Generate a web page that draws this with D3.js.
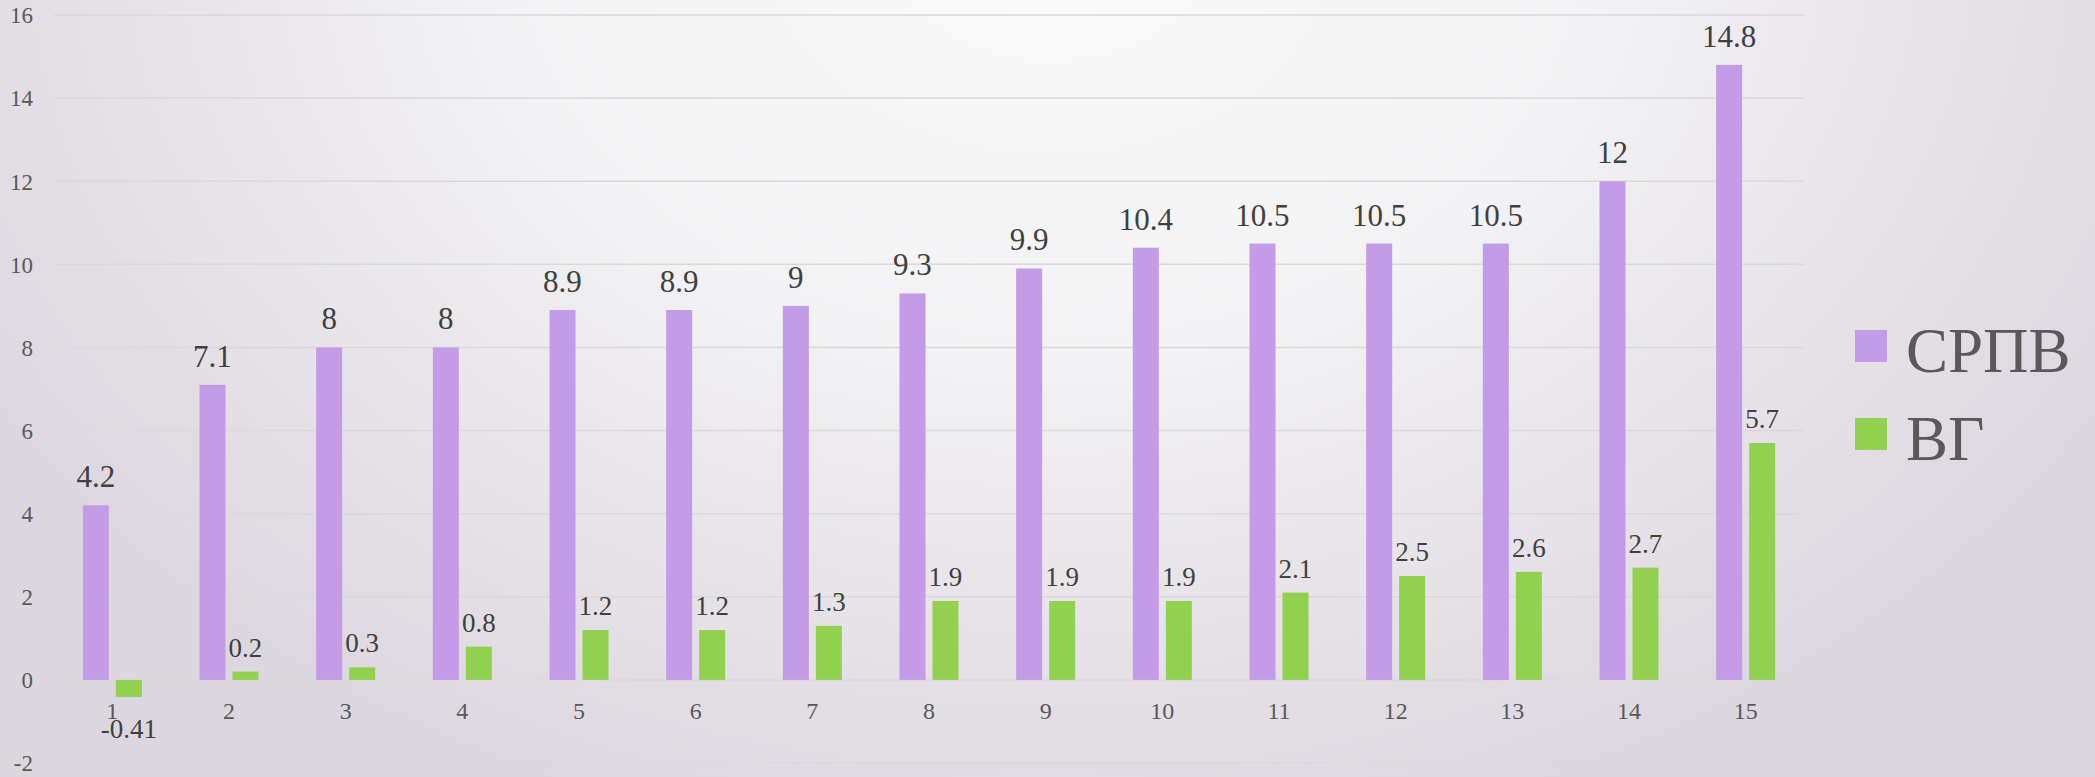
<!DOCTYPE html>
<html><head><meta charset="utf-8">
<script src="https://cdn.jsdelivr.net/npm/d3@7"></script>
<style>html,body{margin:0;padding:0;overflow:hidden;}svg{display:block;}</style>
</head><body>
<svg id="chart" width="2095" height="777"></svg>
<script>
const categories = ["1","2","3","4","5","6","7","8","9","10","11","12","13","14","15"];
const seriesNames = ["СРПВ","ВГ"];
const srpv = [4.2,7.1,8,8,8.9,8.9,9,9.3,9.9,10.4,10.5,10.5,10.5,12,14.8];
const vg = [-0.41,0.2,0.3,0.8,1.2,1.2,1.3,1.9,1.9,1.9,2.1,2.5,2.6,2.7,5.7];
const yTicks = [-2,0,2,4,6,8,10,12,14,16];
const colors = {"СРПВ":"#c39be6","ВГ":"#92d050"};

const svg = d3.select("#chart");
const W = 2095, H = 777;
const defs = svg.append("defs");
const rg = defs.append("radialGradient").attr("id","bg")
  .attr("gradientUnits","userSpaceOnUse").attr("cx",1050).attr("cy",-60).attr("r",1250)
  .attr("gradientTransform","translate(1050,-60) scale(1,0.75) translate(-1050,60)");
rg.append("stop").attr("offset","0%").attr("stop-color","#fafafb");
rg.append("stop").attr("offset","45%").attr("stop-color","#f2f1f3");
rg.append("stop").attr("offset","100%").attr("stop-color","#dcd6de");
svg.append("rect").attr("width",W).attr("height",H).attr("fill","url(#bg)");

const plotL = 54, plotR = 1804;
const y = d3.scaleLinear().domain([-2,16]).range([763,15]);
const x0 = d3.scaleBand().domain(categories).range([plotL,plotR]).paddingInner(0).paddingOuter(0);

const serif = "'Liberation Serif','Times New Roman',serif";

// gridlines
svg.append("g").selectAll("line").data(yTicks).join("line")
  .attr("x1",plotL).attr("x2",plotR)
  .attr("y1",d=>y(d)).attr("y2",d=>y(d))
  .attr("stroke","#d9d9d9").attr("stroke-width",1.5);

// y tick labels
svg.append("g").selectAll("text").data(yTicks).join("text")
  .attr("x",33).attr("y",d=>y(d)).attr("dy","0.36em")
  .attr("text-anchor","end").attr("font-family",serif).attr("font-size",23)
  .attr("fill","#595959").text(d=>d);

// x labels
svg.append("g").selectAll("text").data(categories).join("text")
  .attr("x",d=>x0(d)+x0.bandwidth()/2).attr("y",719)
  .attr("text-anchor","middle").attr("font-family",serif).attr("font-size",24)
  .attr("fill","#595959").text(d=>d);

const bw = x0.bandwidth();
const x1 = d3.scaleBand().domain(seriesNames).range([bw/2-29.5, bw/2+29.5]).paddingInner(0.212).paddingOuter(0);

const data = categories.map((c,i)=>({cat:c, vals:[{k:"СРПВ",v:srpv[i]},{k:"ВГ",v:vg[i]}]}));

const groups = svg.append("g").selectAll("g").data(data).join("g")
  .attr("transform",d=>`translate(${x0(d.cat)},0)`);

groups.selectAll("rect").data(d=>d.vals).join("rect")
  .attr("x",d=>x1(d.k)).attr("width",x1.bandwidth())
  .attr("y",d=>y(Math.max(0,d.v)))
  .attr("height",d=>Math.abs(y(d.v)-y(0)))
  .attr("fill",d=>colors[d.k]);

groups.selectAll("text").data(d=>d.vals).join("text")
  .attr("x",d=>x1(d.k)+x1.bandwidth()/2)
  .attr("y",d=> d.v>=0 ? y(d.v)-(d.k==="СРПВ"?18:15) : y(d.v)+41)
  .attr("text-anchor","middle").attr("font-family",serif)
  .attr("font-size",d=>d.k==="СРПВ"?31:27)
  .attr("fill","#404040").text(d=>d.v);

// legend
const leg = svg.append("g").selectAll("g").data(seriesNames).join("g")
  .attr("transform",(d,i)=>`translate(1855,${330+i*88})`);
leg.append("rect").attr("width",32).attr("height",32).attr("fill",d=>colors[d]);
leg.append("text").attr("x",51).attr("y",42).attr("font-family",serif)
  .attr("font-size",63).attr("fill","#595959").text(d=>d);
</script>
</body></html>
